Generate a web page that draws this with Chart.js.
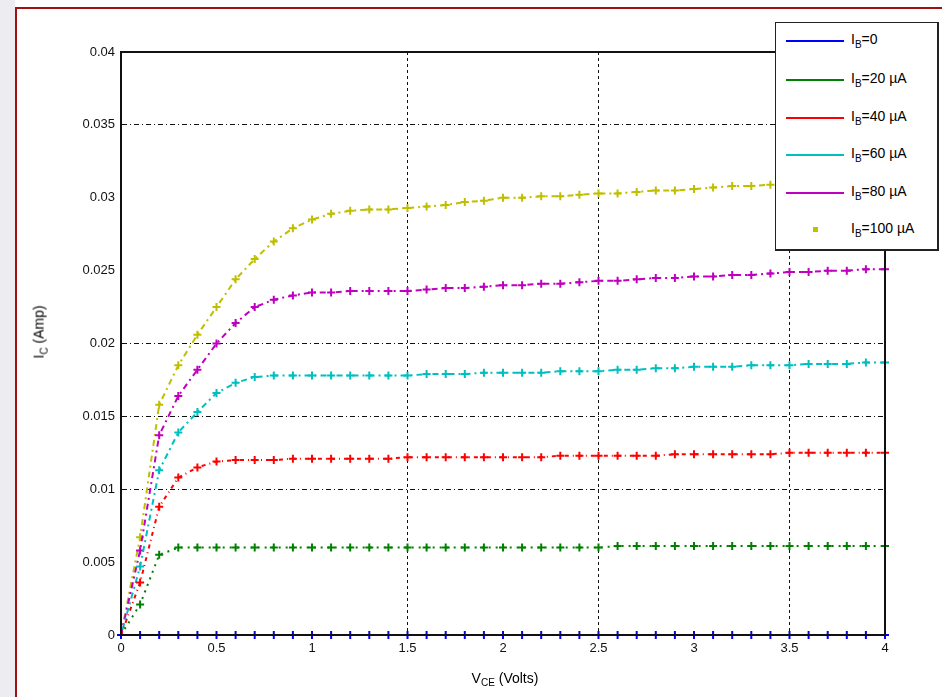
<!DOCTYPE html>
<html>
<head>
<meta charset="utf-8">
<script src="https://cdn.jsdelivr.net/npm/chart.js@4"></script>
<style>
  html, body { margin: 0; padding: 0; background: #fff; overflow: hidden; }
  body { width: 942px; height: 697px; position: relative; font-family: "Liberation Sans", Arial, sans-serif; }
  #strip { position: absolute; left: 0; top: 0; width: 15px; height: 697px; background: #ececf1; }
  #frame { position: absolute; left: 15px; top: 7px; width: 940px; height: 700px; border-left: 2px solid #a01010; border-top: 2px solid #a01010; background: #fff; }
  #wrap { position: absolute; left: 0; top: 0; width: 942px; height: 697px; }
  #ytitle { position: absolute; left: 40px; top: 332px; transform: translate(-50%, -50%) rotate(-90deg); font-size: 14px; white-space: nowrap; }
  #xtitle { position: absolute; left: 505px; top: 679px; transform: translate(-50%, -50%); font-size: 14px; white-space: nowrap; }
  #legend { position: absolute; left: 775px; top: 22px; width: 161px; height: 226px; border: 2px solid #222; border-left-width: 1px; border-top-width: 1px; background: #fff; }
  .row { position: absolute; left: 0; height: 20px; width: 160px; }
  .row .ln { position: absolute; left: 10px; top: 9px; width: 58px; height: 2px; }
  .row .dot { position: absolute; left: 37px; top: 7px; width: 5px; height: 5px; }
  .row .tx { position: absolute; left: 75px; top: 0; font-size: 14px; white-space: nowrap; }
  sub { font-size: 10px; }
</style>
</head>
<body>
<div id="strip"></div>
<div id="frame"></div>
<div id="wrap"><canvas id="chart" width="942" height="697"></canvas></div>
<div id="ytitle">I<sub>C</sub> (Amp)</div>
<div id="xtitle">V<sub>CE</sub> (Volts)</div>
<div id="legend"></div>
<script>
// collector-emitter voltage (V)
const vce = [0, 0.1, 0.2, 0.3, 0.4, 0.5, 0.6, 0.7, 0.8, 0.9, 1.0,
  1.1, 1.2, 1.3, 1.4, 1.5, 1.6, 1.7, 1.8, 1.9, 2.0,
  2.1, 2.2, 2.3, 2.4, 2.5, 2.6, 2.7, 2.8, 2.9, 3.0,
  3.1, 3.2, 3.3, 3.4, 3.5, 3.6, 3.7, 3.8, 3.9, 4.0];

// collector current (A) for each base current
const ib0 = [0, 0, 0, 0, 0, 0, 0, 0, 0, 0, 0,
  0, 0, 0, 0, 0, 0, 0, 0, 0, 0,
  0, 0, 0, 0, 0, 0, 0, 0, 0, 0,
  0, 0, 0, 0, 0, 0, 0, 0, 0, 0];
const ib20 = [0, 0.0021, 0.0055, 0.0060, 0.0060, 0.0060, 0.0060, 0.0060, 0.0060, 0.0060, 0.0060,
  0.0060, 0.0060, 0.0060, 0.0060, 0.0060, 0.0060, 0.0060, 0.0060, 0.0060, 0.0060,
  0.0060, 0.0060, 0.0060, 0.0060, 0.0060, 0.0061, 0.0061, 0.0061, 0.0061, 0.0061,
  0.0061, 0.0061, 0.0061, 0.0061, 0.0061, 0.0061, 0.0061, 0.0061, 0.0061, 0.0061];
const ib40 = [0, 0.0036, 0.0088, 0.0108, 0.0115, 0.0119, 0.0120, 0.0120, 0.0120, 0.0121, 0.0121,
  0.0121, 0.0121, 0.0121, 0.0121, 0.0122, 0.0122, 0.0122, 0.0122, 0.0122, 0.0122,
  0.0122, 0.0122, 0.0123, 0.0123, 0.0123, 0.0123, 0.0123, 0.0123, 0.0124, 0.0124,
  0.0124, 0.0124, 0.0124, 0.0124, 0.0125, 0.0125, 0.0125, 0.0125, 0.0125, 0.0125];
const ib60 = [0, 0.0047, 0.0113, 0.0139, 0.0153, 0.0166, 0.0173, 0.0177, 0.0178, 0.0178, 0.0178,
  0.0178, 0.0178, 0.0178, 0.0178, 0.0178, 0.0179, 0.0179, 0.0179, 0.0180, 0.0180,
  0.0180, 0.0180, 0.0181, 0.0181, 0.0181, 0.0182, 0.0182, 0.0183, 0.0183, 0.0184,
  0.0184, 0.0184, 0.0185, 0.0185, 0.0185, 0.0186, 0.0186, 0.0186, 0.0187, 0.0187];
const ib80 = [0, 0.0058, 0.0137, 0.0164, 0.0182, 0.0200, 0.0214, 0.0225, 0.0230, 0.0233, 0.0235,
  0.0235, 0.0236, 0.0236, 0.0236, 0.0236, 0.0237, 0.0238, 0.0238, 0.0239, 0.0240,
  0.0240, 0.0241, 0.0241, 0.0242, 0.0243, 0.0243, 0.0244, 0.0245, 0.0245, 0.0246,
  0.0246, 0.0247, 0.0247, 0.0248, 0.0249, 0.0249, 0.0250, 0.0250, 0.0251, 0.0251];
const ib100 = [0, 0.0067, 0.0158, 0.0185, 0.0206, 0.0225, 0.0244, 0.0258, 0.0270, 0.0279, 0.0285,
  0.0289, 0.0291, 0.0292, 0.0292, 0.0293, 0.0294, 0.0295, 0.0297, 0.0298, 0.0300,
  0.0300, 0.0301, 0.0301, 0.0302, 0.0303, 0.0303, 0.0304, 0.0305, 0.0305, 0.0306,
  0.0307, 0.0308, 0.0308, 0.0309, 0.0309, 0.0310, 0.0310, 0.0311, 0.0311, 0.0312];

const seriesNames = ['I<sub>B</sub>=0', 'I<sub>B</sub>=20 µA', 'I<sub>B</sub>=40 µA',
  'I<sub>B</sub>=60 µA', 'I<sub>B</sub>=80 µA', 'I<sub>B</sub>=100 µA'];
const seriesData = [ib0, ib20, ib40, ib60, ib80, ib100];
const colors = ['#0000ff', '#008000', '#ff0000', '#00bfbf', '#bf00bf', '#bfbf00'];
const dashes = [[], [2, 5], [4, 4, 1, 4], [2, 4, 6, 4], [6, 4, 2, 4], [6, 4, 2, 4]];

const xTicks = [0, 0.5, 1, 1.5, 2, 2.5, 3, 3.5, 4];
const yTicks = [0, 0.005, 0.01, 0.015, 0.02, 0.025, 0.03, 0.035, 0.04];
// grid lines that show up in the picture
const xGrid = [1.5, 2.5, 3.5];
const yGrid = [0.01, 0.015, 0.02, 0.035];

const datasets = seriesData.map((vals, i) => ({
  label: seriesNames[i],
  data: vals.map((v, j) => ({ x: vce[j], y: v })),
  borderColor: colors[i],
  backgroundColor: colors[i],
  borderWidth: 2,
  borderDash: dashes[i],
  pointStyle: 'cross',
  pointRadius: 4,
  pointBorderWidth: 2,
  clip: 6
}));

const near = (list, v) => list.some(g => Math.abs(g - v) < 1e-9);

const boxPlugin = {
  id: 'box',
  afterDraw(chart) {
    const a = chart.chartArea, ctx = chart.ctx;
    ctx.save();
    ctx.strokeStyle = '#111';
    ctx.lineWidth = 2;
    ctx.strokeRect(a.left, a.top, a.right - a.left, a.bottom - a.top);
    ctx.restore();
  }
};

new Chart(document.getElementById('chart'), {
  type: 'line',
  data: { datasets: datasets },
  plugins: [boxPlugin],
  options: {
    responsive: false,
    animation: false,
    layout: { padding: { top: 52, right: 57, left: 20, bottom: 0 } },
    plugins: { legend: { display: false }, tooltip: { enabled: false } },
    scales: {
      x: {
        type: 'linear', min: 0, max: 4,
        afterBuildTicks: s => { s.ticks = xTicks.map(v => ({ value: v })); },
        afterFit: s => { s.height = 62; },
        ticks: { color: '#111', font: { size: 13, family: 'Liberation Sans' }, padding: 6,
          callback: v => String(v) },
        grid: { drawTicks: false, lineWidth: 1,
          color: c => (c.tick && near(xGrid, c.tick.value)) ? '#111' : 'rgba(0,0,0,0)' },
        border: { color: '#111', width: 2, dash: [3, 3] }
      },
      y: {
        type: 'linear', min: 0, max: 0.04,
        afterBuildTicks: s => { s.ticks = yTicks.map(v => ({ value: v })); },
        afterFit: s => { s.width = 101; },
        ticks: { color: '#111', font: { size: 13, family: 'Liberation Sans' }, padding: 6,
          callback: v => String(v) },
        grid: { drawTicks: false, lineWidth: 1,
          color: c => (c.tick && near(yGrid, c.tick.value)) ? '#111' : 'rgba(0,0,0,0)' },
        border: { color: '#111', width: 2, dash: [5, 3, 1, 3] }
      }
    }
  }
});

// legend box, drawn as html so the subscripts stay real text
const legend = document.getElementById('legend');
const rowTops = [8, 47, 85, 122, 160, 197];
seriesNames.forEach((name, i) => {
  const row = document.createElement('div');
  row.className = 'row';
  row.style.top = rowTops[i] + 'px';
  const mark = i === 5
    ? '<div class="dot" style="background:' + colors[i] + '"></div>'
    : '<div class="ln" style="background:' + colors[i] + '"></div>';
  row.innerHTML = mark + '<div class="tx">' + name + '</div>';
  legend.appendChild(row);
});
</script>
</body>
</html>
